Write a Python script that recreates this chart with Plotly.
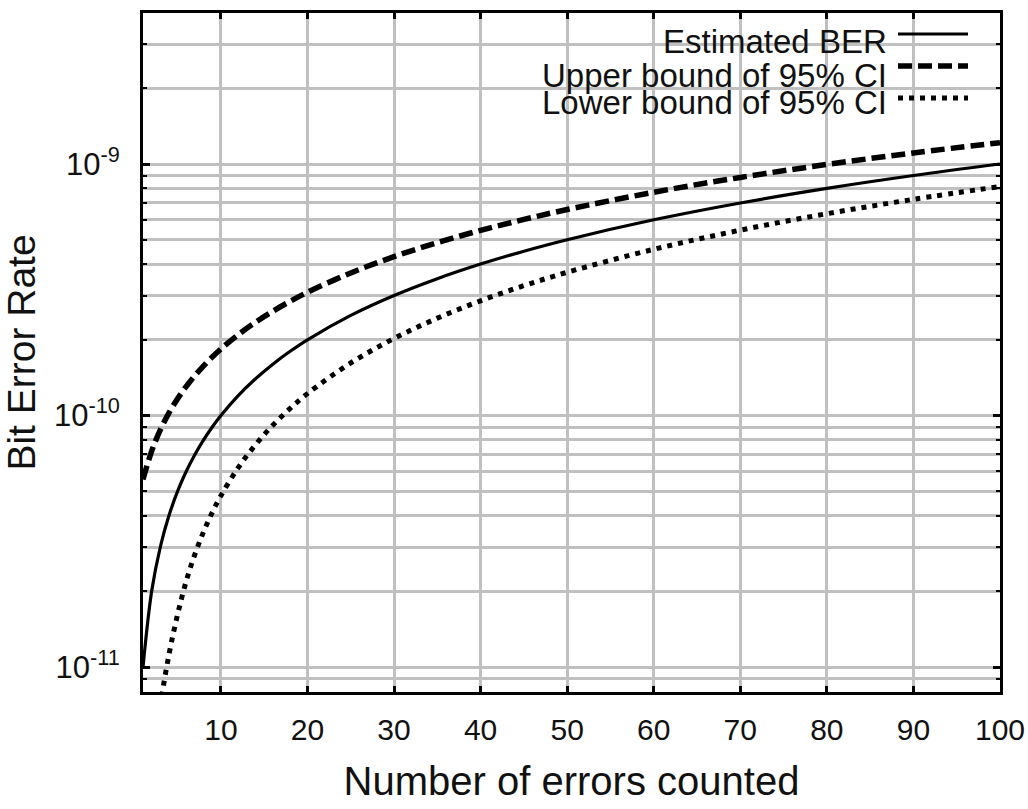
import plotly.graph_objects as go

# Number of errors counted
errors = [1, 2, 3, 4, 5, 6, 7, 8, 9, 10, 12, 14, 16, 18, 20, 25, 30, 35, 40,
          45, 50, 60, 70, 80, 90, 100]
# Estimated BER
ber_est = [1.0e-11, 2.0e-11, 3.0e-11, 4.0e-11, 5.0e-11, 6.0e-11, 7.0e-11, 8.0e-11,
           9.0e-11, 1.0e-10, 1.2e-10, 1.4e-10, 1.6e-10, 1.8e-10, 2.0e-10, 2.5e-10,
           3.0e-10, 3.5e-10, 4.0e-10, 4.5e-10, 5.0e-10, 6.0e-10, 7.0e-10, 8.0e-10,
           9.0e-10, 1.0e-9]
# Upper bound of 95% CI
ber_upper = [5.57e-11, 7.22e-11, 8.77e-11, 1.024e-10, 1.167e-10, 1.306e-10, 1.442e-10,
             1.576e-10, 1.709e-10, 1.839e-10, 2.096e-10, 2.349e-10, 2.598e-10,
             2.845e-10, 3.089e-10, 3.689e-10, 4.283e-10, 4.868e-10, 5.447e-10,
             6.020e-10, 6.592e-10, 7.721e-10, 8.843e-10, 9.958e-10, 1.1068e-9,
             1.2163e-9]
# Lower bound of 95% CI
ber_lower = [2.5e-13, 2.9e-12, 6.9e-12, 1.12e-11, 1.62e-11, 2.20e-11, 2.81e-11,
             3.45e-11, 4.12e-11, 4.80e-11, 6.20e-11, 7.65e-11, 9.15e-11, 1.067e-10,
             1.222e-10, 1.618e-10, 2.024e-10, 2.438e-10, 2.858e-10, 3.283e-10,
             3.711e-10, 4.579e-10, 5.457e-10, 6.344e-10, 7.237e-10, 8.136e-10]

series_names = ["Estimated BER", "Upper bound of 95% CI", "Lower bound of 95% CI"]

x_ticks = [10, 20, 30, 40, 50, 60, 70, 80, 90, 100]
y_ticks = [1e-11, 1e-10, 1e-9]
y_ticktext = ["10<sup>-11</sup>", "10<sup>-10</sup>", "10<sup>-9</sup>"]
y_minor = [k * 10.0 ** e for e in (-12, -11, -10, -9) for k in range(2, 10)]

FONT = "Liberation Sans, Arial, sans-serif"
GRID = "#c0c0c0"

fig = go.Figure()
fig.add_trace(go.Scatter(x=errors, y=ber_est, mode="lines", name=series_names[0],
                         line=dict(color="black", width=3.2, shape="spline")))
fig.add_trace(go.Scatter(x=errors, y=ber_upper, mode="lines", name=series_names[1],
                         line=dict(color="black", width=5.5, dash="14px,6px", shape="spline")))
fig.add_trace(go.Scatter(x=errors, y=ber_lower, mode="lines", name=series_names[2],
                         line=dict(color="black", width=5, dash="5px,6px", shape="spline")))

# legend (text right-aligned, sample to the right), drawn manually
L = 143.0; R = 1000.0; T = 13.0; B = 692.0
def px(xp):
    return (xp - L) / (R - L)
def py(yp):
    return (B - yp) / (B - T)

# white backgrounds
fig.add_shape(type="rect", xref="paper", yref="paper", x0=px(627), x1=px(982),
              y0=py(50), y1=py(13), fillcolor="white", line_width=0, layer="between")
fig.add_shape(type="rect", xref="paper", yref="paper", x0=px(513), x1=px(982),
              y0=py(126), y1=py(50), fillcolor="white", line_width=0, layer="between")

rows_y = [42, 75, 103]
sample_y = [34, 66, 98]
dashes = ["solid", "14px,6px", "5px,6px"]
widths = [3.2, 5.5, 5]
for name, ty, sy, d, w in zip(series_names, rows_y, sample_y, dashes, widths):
    fig.add_annotation(text=name, xref="paper", yref="paper", x=px(889), y=py(ty),
                       xanchor="right", yanchor="middle", showarrow=False,
                       font=dict(family=FONT, size=33, color="#111"))
    fig.add_shape(type="line", xref="paper", yref="paper", x0=px(898), x1=px(968),
                  y0=py(sy), y1=py(sy), line=dict(color="black", width=w, dash=d))

fig.update_layout(
    width=1028, height=809,
    margin=dict(l=143, r=28, t=13, b=117),
    paper_bgcolor="white", plot_bgcolor="white",
    showlegend=False,
    font=dict(family=FONT, color="#111"),
)
fig.update_xaxes(
    range=[1, 100], tickmode="array", tickvals=x_ticks, automargin=False,
    ticks="inside", ticklen=6, tickwidth=3, tickcolor="black",
    showline=True, linewidth=3, linecolor="black", mirror="ticks",
    showgrid=True, gridcolor=GRID, gridwidth=3, zeroline=False,
    tickfont=dict(size=30, family=FONT, color="#111"), ticklabelstandoff=9,
    title=dict(text="Number of errors counted", font=dict(size=40, family=FONT, color="#111"),
               standoff=22),
)
fig.update_yaxes(
    type="log", range=[-11.0994, -8.3996], tickmode="array", automargin=False,
    tickvals=y_ticks, ticktext=y_ticktext,
    ticks="inside", ticklen=7, tickwidth=3, tickcolor="black",
    showline=True, linewidth=3, linecolor="black", mirror="ticks",
    showgrid=True, gridcolor=GRID, gridwidth=3, zeroline=False,
    minor=dict(tickmode="array", tickvals=y_minor, ticks="inside", ticklen=4,
               tickwidth=2, tickcolor="black", showgrid=True, gridcolor=GRID,
               gridwidth=3),
    tickfont=dict(size=31, family=FONT, color="#111"), ticklabelstandoff=14,
    title=dict(text="Bit Error Rate", font=dict(size=39, family=FONT, color="#111"),
               standoff=14),
)

fig.write_html("out.html")
